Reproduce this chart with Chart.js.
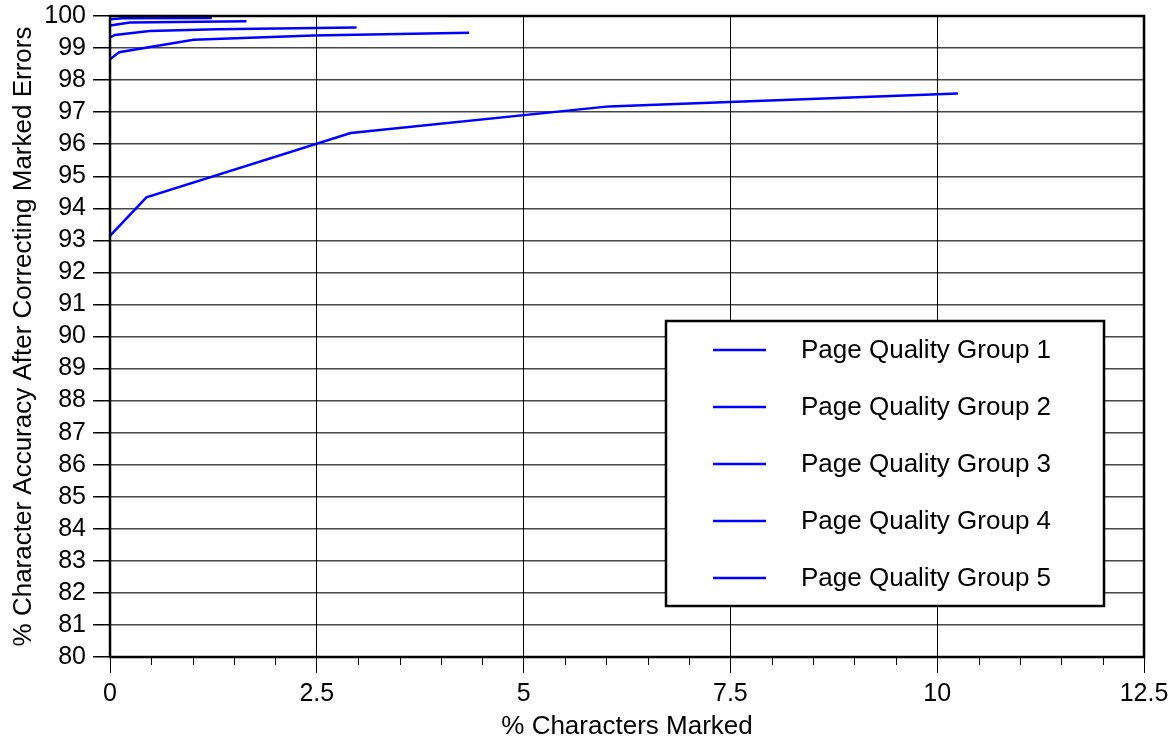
<!DOCTYPE html>
<html>
<head>
<meta charset="utf-8">
<script src="https://cdn.jsdelivr.net/npm/chart.js@4"></script>
<style>
  html, body { margin: 0; padding: 0; background: #fff; }
  canvas { display: block; }
</style>
</head>
<body>
<canvas id="accuracy-chart" width="1175" height="747"></canvas>
<script>
// series labels
const groupLabels = ['Page Quality Group 1', 'Page Quality Group 2', 'Page Quality Group 3',
                     'Page Quality Group 4', 'Page Quality Group 5'];

// % characters marked (x) and % accuracy after correcting (y)
const g1Marked = [0, 0.15, 1.23];
const g1Accuracy = [99.90, 99.93, 99.94];

const g2Marked = [0, 0.24, 1.65];
const g2Accuracy = [99.70, 99.80, 99.84];

const g3Marked = [0, 0.06, 0.48, 1.29, 2.98];
const g3Accuracy = [99.33, 99.41, 99.53, 99.59, 99.64];

const g4Marked = [0, 0.11, 1.01, 2.46, 4.34];
const g4Accuracy = [98.65, 98.87, 99.26, 99.39, 99.48];

const g5Marked = [0, 0.44, 2.91, 6.03, 10.25];
const g5Accuracy = [93.14, 94.34, 96.35, 97.18, 97.58];

// axis ranges / ticks
const xMin = 0, xMax = 12.5, xMajor = 2.5, xMinor = 0.5;
const yMin = 80, yMax = 100, yStep = 1;

const FONT = '"Liberation Sans", Arial, sans-serif';
const LINE_BLUE = '#0000ff';

function toPoints(xs, ys) {
    return xs.map((x, i) => ({ x: x, y: ys[i] }));
}

const seriesX = [g1Marked, g2Marked, g3Marked, g4Marked, g5Marked];
const seriesY = [g1Accuracy, g2Accuracy, g3Accuracy, g4Accuracy, g5Accuracy];

const datasets = groupLabels.map((label, i) => ({
    label: label,
    data: toPoints(seriesX[i], seriesY[i]),
    borderColor: LINE_BLUE,
    backgroundColor: LINE_BLUE,
    borderWidth: 2.5,
    pointRadius: 0,
    tension: 0,
    fill: false
}));

function isMajor(v) {
    return Math.abs(v / xMajor - Math.round(v / xMajor)) < 1e-6;
}

// frame round the plot + short minor ticks on the x axis
const framePlugin = {
    id: 'frame',
    afterDatasetsDraw(chart) {
        const { ctx, chartArea } = chart;
        const xs = chart.scales.x;
        ctx.save();
        ctx.strokeStyle = '#000';
        ctx.lineWidth = 1;
        for (let v = xMin; v <= xMax + 1e-9; v += xMinor) {
            if (isMajor(v)) continue;
            const px = Math.round(xs.getPixelForValue(v)) + 0.5;
            ctx.beginPath();
            ctx.moveTo(px, chartArea.bottom);
            ctx.lineTo(px, chartArea.bottom + 8);
            ctx.stroke();
        }
        ctx.lineWidth = 2.5;
        ctx.strokeRect(chartArea.left, chartArea.top,
                       chartArea.right - chartArea.left, chartArea.bottom - chartArea.top);
        ctx.restore();
    }
};

// legend box inside the plot, lower right
const boxLegend = {
    id: 'boxLegend',
    afterDraw(chart) {
        const { ctx, chartArea } = chart;
        const bx = chartArea.right - 478, by = chartArea.top + 305;
        const bw = 438, bh = 285;
        ctx.save();
        ctx.fillStyle = '#fff';
        ctx.fillRect(bx, by, bw, bh);
        ctx.strokeStyle = '#000';
        ctx.lineWidth = 2.5;
        ctx.strokeRect(bx, by, bw, bh);
        ctx.font = '26px ' + FONT;
        ctx.textBaseline = 'middle';
        ctx.fillStyle = '#000';
        chart.data.datasets.forEach((ds, i) => {
            const cy = by + 29 + i * 57;
            ctx.strokeStyle = ds.borderColor;
            ctx.lineWidth = 2.5;
            ctx.beginPath();
            ctx.moveTo(bx + 47, cy);
            ctx.lineTo(bx + 100, cy);
            ctx.stroke();
            ctx.fillText(ds.label, bx + 135, cy + 1);
        });
        ctx.restore();
    }
};

const ctx = document.getElementById('accuracy-chart').getContext('2d');
new Chart(ctx, {
    type: 'line',
    data: { datasets: datasets },
    plugins: [framePlugin, boxLegend],
    options: {
        responsive: false,
        animation: false,
        devicePixelRatio: 1,
        layout: { padding: { top: 16, right: 31, left: 0, bottom: 0 } },
        plugins: {
            legend: { display: false },
            tooltip: { enabled: false }
        },
        scales: {
            x: {
                type: 'linear',
                min: xMin,
                max: xMax,
                afterFit: s => { s.height = 90; s.paddingLeft = 0; s.paddingRight = 0; },
                border: { color: '#000', width: 2 },
                grid: {
                    color: c => isMajor(c.tick.value) ? '#000' : 'rgba(0,0,0,0)',
                    tickColor: c => isMajor(c.tick.value) ? '#000' : 'rgba(0,0,0,0)',
                    lineWidth: 1,
                    tickLength: 16
                },
                ticks: {
                    stepSize: xMinor,
                    autoSkip: false,
                    maxRotation: 0,
                    padding: 6,
                    color: '#000',
                    font: { family: FONT, size: 25 },
                    callback: v => isMajor(v) ? String(Math.round(v * 10) / 10) : ''
                },
                title: {
                    display: true,
                    text: '% Characters Marked',
                    color: '#000',
                    font: { family: FONT, size: 26 },
                    padding: { top: 0, bottom: 5 }
                }
            },
            y: {
                type: 'linear',
                min: yMin,
                max: yMax,
                afterFit: s => { s.width = 110; s.paddingTop = 0; s.paddingBottom = 0; },
                border: { color: '#000', width: 2 },
                grid: {
                    color: 'rgba(0,0,0,0.72)',
                    tickColor: '#000',
                    lineWidth: 1.5,
                    tickLength: 17
                },
                ticks: {
                    stepSize: yStep,
                    autoSkip: false,
                    padding: 7,
                    color: '#000',
                    font: { family: FONT, size: 25 }
                },
                title: {
                    display: true,
                    text: '% Character Accuracy After Correcting Marked Errors',
                    color: '#000',
                    font: { family: FONT, size: 26 },
                    padding: { top: 8, bottom: 0 }
                }
            }
        }
    }
});
</script>
</body>
</html>
